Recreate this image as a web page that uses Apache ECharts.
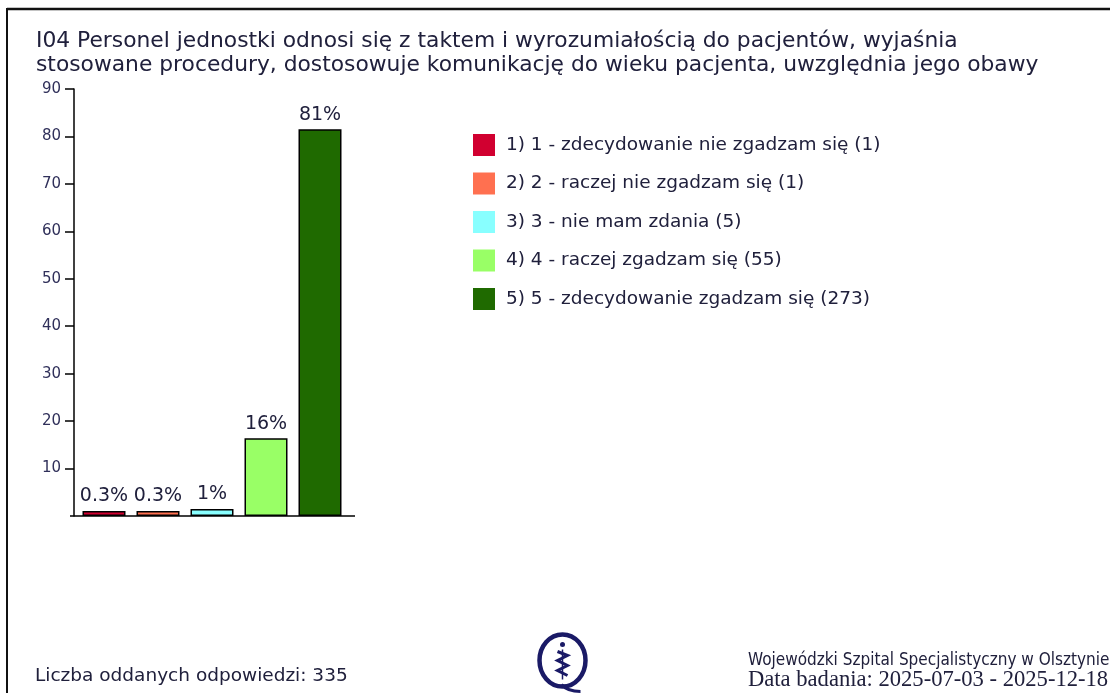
<!DOCTYPE html>
<html>
<head>
<meta charset="utf-8">
<script src="https://cdn.jsdelivr.net/npm/echarts@6/dist/echarts.min.js"></script>
<style>
	html, body { margin: 0; padding: 0; background: #fff; }
	#chart { width: 1110px; height: 693px; }
</style>
</head>
<body>
<div id="chart"></div>
<script>
// dane z wykresu
const categories = ['1 - zdecydowanie nie zgadzam się', '2 - raczej nie zgadzam się', '3 - nie mam zdania', '4 - raczej zgadzam się', '5 - zdecydowanie zgadzam się'];
const counts = [1, 1, 5, 55, 273];
const percents = [0.3, 0.3, 1.5, 16.4, 81.5];
const barLabels = ['0.3%', '0.3%', '1%', '16%', '81%'];
const colors = ['#d10030', '#ff7050', '#88ffff', '#99ff66', '#1f6a00'];
const yTicks = [10, 20, 30, 40, 50, 60, 70, 80, 90];

const titleText = 'I04 Personel jednostki odnosi się z taktem i wyrozumiałością do pacjentów, wyjaśnia\nstosowane procedury, dostosowuje komunikację do wieku pacjenta, uwzględnia jego obawy';
const totalText = 'Liczba oddanych odpowiedzi: 335';
const hospitalText = 'Wojewódzki Szpital Specjalistyczny w Olsztynie';
const dateText = 'Data badania: 2025-07-03 - 2025-12-18';

const textColor = '#20203c';
const navy = '#1a1a66';

// jedna seria na kategorię, żeby legenda miała 5 pozycji
const seriesNames = categories.map((c, i) => `${i + 1}) ${c} (${counts[i]})`);
const series = categories.map((c, i) => ({
	name: seriesNames[i],
	type: 'bar',
	stack: 'all',
	barWidth: 43,
	barMinHeight: 5,
	data: percents.map((v, j) => (j === i ? v : '-')),
	itemStyle: {
		color: colors[i],
		borderColor: '#000',
		borderWidth: 1.5,
	},
	label: {
		show: true,
		position: 'top',
		distance: 5,
		fontFamily: 'DejaVu Sans',
		fontSize: 19,
		color: textColor,
		formatter: () => barLabels[i],
	},
	emphasis: { disabled: true },
}));

const chart = echarts.init(document.getElementById('chart'), null, { renderer: 'canvas' });

chart.setOption({
	animation: false,
	color: colors,
	title: {
		text: titleText,
		left: 31,
		top: 24,
		textStyle: {
			fontFamily: 'DejaVu Sans',
			fontWeight: 'normal',
			fontSize: 21.8,
			lineHeight: 24,
			color: textColor,
		},
	},
	grid: {
		left: 77,
		width: 270,
		top: 89,
		bottom: 177,
		containLabel: false,
	},
	legend: {
		orient: 'vertical',
		left: 468,
		top: 129,
		itemWidth: 22,
		itemHeight: 22,
		itemGap: 16.5,
		icon: 'rect',
		selectedMode: false,
		data: seriesNames,
		itemStyle: { borderWidth: 0 },
		textStyle: {
			fontFamily: 'DejaVu Sans',
			fontSize: 18.5,
			color: textColor,
			padding: [0, 0, 0, 6],
		},
	},
	xAxis: {
		type: 'category',
		data: categories,
		axisLine: { show: false },
		axisTick: { show: false },
		axisLabel: { show: false },
	},
	yAxis: {
		type: 'value',
		min: 0,
		max: 90,
		interval: 10,
		offset: 3,
		splitLine: { show: false },
		axisLine: { show: true, lineStyle: { color: '#000', width: 1.5 } },
		axisTick: {
			show: true,
			length: 9,
			customValues: yTicks,
			lineStyle: { color: '#000', width: 1.5 },
		},
		axisLabel: {
			customValues: yTicks,
			margin: 13,
			fontFamily: 'DejaVu Sans',
			fontSize: 15,
			color: '#30305a',
		},
	},
	series: series,
	graphic: [
		// ramka
		{ type: 'line', shape: { x1: 7, y1: 9, x2: 1110, y2: 9 }, style: { stroke: '#111', lineWidth: 2.5 } },
		{ type: 'line', shape: { x1: 7, y1: 8, x2: 7, y2: 693 }, style: { stroke: '#111', lineWidth: 2 } },
		// oś X (dłuższa niż siatka)
		{ type: 'line', shape: { x1: 70, y1: 516, x2: 355, y2: 516 }, style: { stroke: '#000', lineWidth: 1.5 }, z: 10 },
		// stopka
		{
			type: 'text', left: 35, top: 667,
			style: { text: totalText, font: '18.5px "DejaVu Sans"', fill: textColor },
		},
		{
			type: 'text', left: 748, top: 652,
			style: { text: hospitalText, font: '17px "DejaVu Sans Condensed"', fill: textColor },
		},
		{
			type: 'text', left: 748, top: 669,
			style: { text: dateText, font: '22.6px "Liberation Serif"', fill: textColor },
		},
		// logo
		{
			type: 'group', left: 537, top: 632,
			children: [
				{ type: 'ellipse', shape: { cx: 26, cy: 27, rx: 23, ry: 26 }, style: { fill: 'none', stroke: navy, lineWidth: 4.5 } },
				{ type: 'circle', shape: { cx: 26, cy: 11, r: 2.5 }, style: { fill: navy } },
				{ type: 'polyline', shape: { points: [[21, 18], [31, 22], [21, 27], [31, 32], [21, 37], [31, 42]] }, style: { fill: 'none', stroke: navy, lineWidth: 3 } },
				{ type: 'line', shape: { x1: 26, y1: 16, x2: 26, y2: 46 }, style: { stroke: navy, lineWidth: 1.5 } },
				{ type: 'bezierCurve', shape: { x1: 25, y1: 51, x2: 44, y2: 58, cpx1: 30, cpy1: 57, cpx2: 38, cpy2: 58 }, style: { fill: 'none', stroke: navy, lineWidth: 3 } },
			],
		},
	],
});
</script>
</body>
</html>
